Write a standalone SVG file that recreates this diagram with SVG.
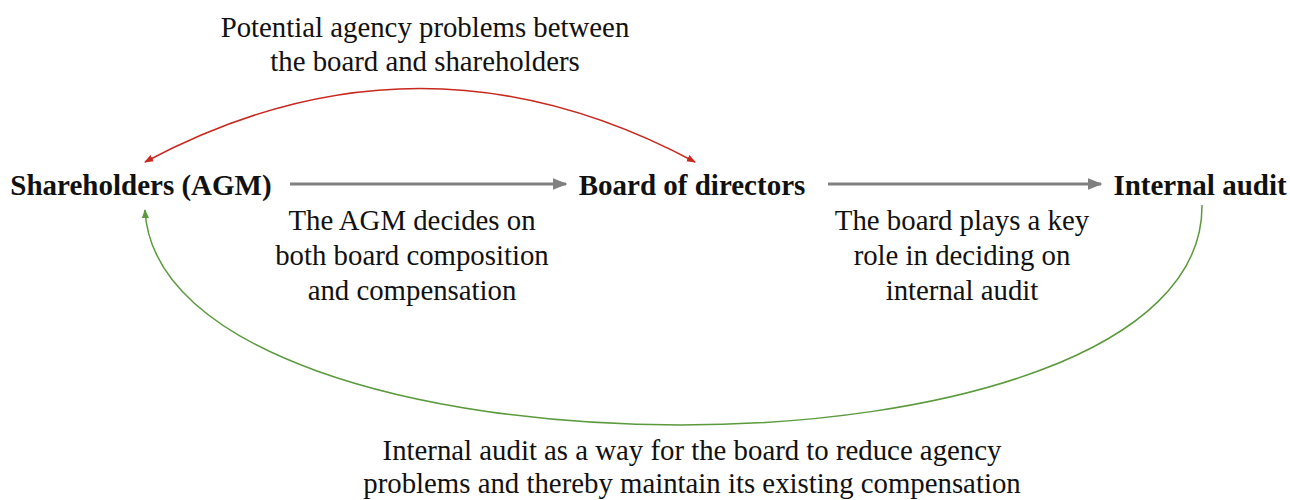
<svg xmlns="http://www.w3.org/2000/svg" width="1290" height="500" viewBox="0 0 1290 500">
  <style>
    .node { font-family: "Liberation Serif", "Times New Roman", serif; font-weight: bold; font-size: 29px; fill: #111; }
    .lbl { font-family: "Liberation Serif", "Times New Roman", serif; font-size: 28.8px; fill: #111; }
  </style>
  <defs>
    <marker id="ahGray" viewBox="0 0 10 10" refX="9" refY="5" markerWidth="5" markerHeight="5" orient="auto">
      <path d="M0,1 L10,5 L0,9 Z" fill="#808080"/>
    </marker>
    <marker id="ahRed" viewBox="0 0 10 10" refX="9" refY="5" markerWidth="6" markerHeight="6" orient="auto-start-reverse">
      <path d="M0,1 L10,5 L0,9 Z" fill="#c8281e"/>
    </marker>
    <marker id="ahGreen" viewBox="0 0 10 10" refX="9" refY="5" markerWidth="6" markerHeight="6" orient="auto">
      <path d="M0,1 L10,5 L0,9 Z" fill="#5a9a3c"/>
    </marker>
  </defs>

  <g id="connectors" fill="none">
    <path d="M290,184 L566,184" stroke="#808080" stroke-width="3" marker-end="url(#ahGray)"/>
    <path d="M828,184 L1101,184" stroke="#808080" stroke-width="3" marker-end="url(#ahGray)"/>
    <path d="M145,162 Q420,15 695,162" stroke="#c8281e" stroke-width="1.5" marker-start="url(#ahRed)" marker-end="url(#ahRed)"/>
    <path d="M1202,205 C1205,500 160,495 145,210" stroke="#5a9a3c" stroke-width="1.5" marker-end="url(#ahGreen)"/>
  </g>

  <g id="shareholders">
    <text class="node" x="141" y="195" text-anchor="middle">Shareholders (AGM)</text>
  </g>
  <g id="board">
    <text class="node" x="692" y="195" text-anchor="middle">Board of directors</text>
  </g>
  <g id="internal-audit">
    <text class="node" x="1200" y="195" text-anchor="middle">Internal audit</text>
  </g>

  <g id="labels">
    <text class="lbl" x="425" y="37" text-anchor="middle">Potential agency problems between</text>
    <text class="lbl" x="425" y="71" text-anchor="middle">the board and shareholders</text>
    <text class="lbl" x="412" y="230" text-anchor="middle">The AGM decides on</text>
    <text class="lbl" x="412" y="265" text-anchor="middle">both board composition</text>
    <text class="lbl" x="412" y="300" text-anchor="middle">and compensation</text>
    <text class="lbl" x="962" y="230" text-anchor="middle">The board plays a key</text>
    <text class="lbl" x="962" y="265" text-anchor="middle">role in deciding on</text>
    <text class="lbl" x="962" y="300" text-anchor="middle">internal audit</text>
    <text class="lbl" x="692" y="460" text-anchor="middle">Internal audit as a way for the board to reduce agency</text>
    <text class="lbl" x="692" y="493" text-anchor="middle">problems and thereby maintain its existing compensation</text>
  </g>
</svg>
